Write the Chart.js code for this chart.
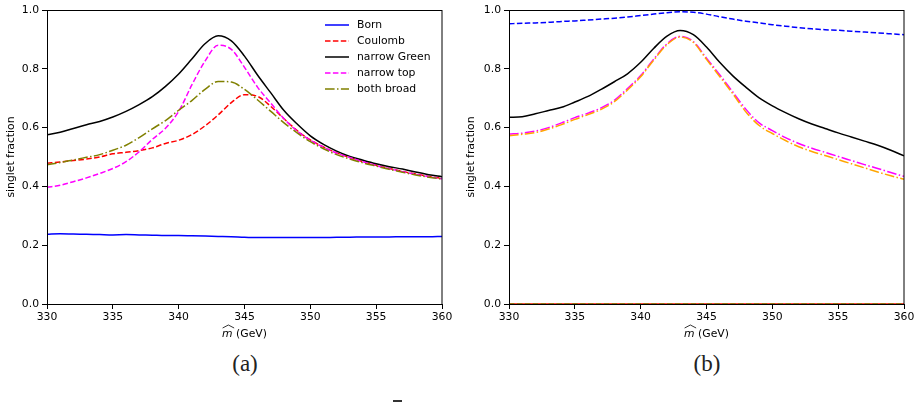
<!DOCTYPE html>
<html lang="en">

<head>
    <meta charset="UTF-8">
    <title>Singlet fraction</title>
    <style>
        body { margin: 0; background: #fff; }
        #wrap { position: relative; width: 921px; height: 402px; overflow: hidden; }
        .panel { position: absolute; top: 0; height: 345px; }
        .tag { position: absolute; top: 351px; font-family: "Liberation Serif", serif; font-size: 23px; color: #222; transform: translateX(-50%); }
        #bar { position: absolute; left: 393px; top: 400px; width: 9px; height: 2px; background: #333; }
    </style>
</head>

<script src="https://cdn.jsdelivr.net/npm/chart.js"></script>

<body>
    <div id="wrap">
        <div class="panel" style="left:0; width:460px;"><canvas id="chartA"></canvas></div>
        <div class="panel" style="left:460px; width:461px;"><canvas id="chartB"></canvas></div>
        <div class="tag" style="left:245px;">(a)</div>
        <div class="tag" style="left:707px;">(b)</div>
        <div id="bar"></div>
    </div>
</body>
<script>
    // invariant mass grid (GeV)
    const mass = [330, 331, 332, 333, 334, 335, 336, 337, 338, 339, 340, 341, 342, 343, 344, 345,
        346, 347, 348, 349, 350, 351, 352, 353, 354, 355, 356, 357, 358, 359, 360];
    const xTicks = [330, 335, 340, 345, 350, 355, 360];
    const yTicks = [0.0, 0.2, 0.4, 0.6, 0.8, 1.0];

    // panel (a)
    const born = [0.237, 0.239, 0.238, 0.237, 0.236, 0.235, 0.236, 0.235, 0.234, 0.233, 0.233, 0.232, 0.231, 0.230, 0.229, 0.227,
        0.226, 0.226, 0.226, 0.226, 0.226, 0.226, 0.227, 0.227, 0.228, 0.228, 0.228, 0.229, 0.229, 0.229, 0.230];
    const coulomb = [0.479, 0.483, 0.488, 0.493, 0.500, 0.511, 0.516, 0.522, 0.531, 0.546, 0.557, 0.576, 0.606, 0.643, 0.685, 0.712,
        0.706, 0.672, 0.630, 0.590, 0.558, 0.534, 0.514, 0.498, 0.484, 0.472, 0.461, 0.451, 0.442, 0.434, 0.427];
    const narrowGreen = [0.576, 0.584, 0.597, 0.610, 0.621, 0.636, 0.655, 0.678, 0.705, 0.740, 0.782, 0.833, 0.885, 0.912, 0.895, 0.843,
        0.778, 0.718, 0.658, 0.612, 0.572, 0.543, 0.520, 0.502, 0.489, 0.477, 0.467, 0.459, 0.449, 0.440, 0.433];
    const narrowTop = [0.397, 0.404, 0.416, 0.429, 0.444, 0.461, 0.484, 0.518, 0.560, 0.598, 0.655, 0.745, 0.826, 0.880, 0.866, 0.805,
        0.737, 0.683, 0.630, 0.588, 0.557, 0.533, 0.513, 0.498, 0.484, 0.471, 0.460, 0.450, 0.441, 0.433, 0.426];
    const bothBroad = [0.474, 0.481, 0.490, 0.499, 0.508, 0.523, 0.540, 0.566, 0.596, 0.624, 0.659, 0.692, 0.730, 0.757, 0.755, 0.730,
        0.694, 0.655, 0.616, 0.582, 0.552, 0.528, 0.508, 0.493, 0.480, 0.469, 0.458, 0.448, 0.439, 0.431, 0.425];

    // panel (b)
    const ggOnly = [0.635, 0.637, 0.647, 0.658, 0.669, 0.687, 0.706, 0.730, 0.756, 0.783, 0.822, 0.870, 0.911, 0.930, 0.916, 0.874,
        0.822, 0.776, 0.737, 0.701, 0.674, 0.651, 0.630, 0.612, 0.597, 0.582, 0.568, 0.554, 0.540, 0.523, 0.504];
    const qqbarOnly = [0, 0, 0, 0, 0, 0, 0, 0, 0, 0, 0, 0, 0, 0, 0, 0, 0, 0, 0, 0, 0, 0, 0, 0, 0, 0, 0, 0, 0, 0, 0];
    const ggSinglet = [0.953, 0.955, 0.956, 0.958, 0.961, 0.963, 0.966, 0.969, 0.972, 0.976, 0.981, 0.986, 0.991, 0.994, 0.992, 0.986,
        0.977, 0.969, 0.962, 0.956, 0.950, 0.945, 0.940, 0.936, 0.933, 0.931, 0.928, 0.925, 0.922, 0.919, 0.916];
    const ggOctet = [0, 0, 0, 0, 0, 0, 0, 0, 0, 0, 0, 0, 0, 0, 0, 0, 0, 0, 0, 0, 0, 0, 0, 0, 0, 0, 0, 0, 0, 0, 0];
    const alphaS = [0.578, 0.581, 0.588, 0.600, 0.616, 0.634, 0.649, 0.667, 0.693, 0.733, 0.777, 0.833, 0.885, 0.910, 0.893, 0.836,
        0.780, 0.721, 0.662, 0.616, 0.590, 0.566, 0.546, 0.530, 0.516, 0.502, 0.488, 0.474, 0.461, 0.447, 0.434];
    const pdf4lhc = [0.572, 0.577, 0.583, 0.595, 0.610, 0.628, 0.644, 0.662, 0.688, 0.728, 0.773, 0.830, 0.882, 0.908, 0.890, 0.832,
        0.774, 0.715, 0.653, 0.607, 0.580, 0.556, 0.535, 0.519, 0.505, 0.491, 0.477, 0.463, 0.449, 0.436, 0.424];

    const SOLID = [];
    const DASH = [5.5, 2.4];
    const DASHDOT = [9.6, 2.4, 1.5, 2.4];
    const FONT = 'DejaVu Sans';
    const FS = 10.8;

    function series(label, values, color, dash) {
        return {
            label: label,
            data: mass.map((m, i) => ({ x: m, y: values[i] })),
            borderColor: color,
            borderWidth: 1.5,
            borderDash: dash,
            pointRadius: 0,
            cubicInterpolationMode: 'monotone',
            fill: false,
        };
    }

    function drawLabel(ctx, text, x, y) {
        // mathtext-ish alpha_s label
        if (text.startsWith('α')) {
            ctx.font = 'italic ' + FS + 'px ' + FONT;
            ctx.fillText('α', x, y);
            let w = ctx.measureText('α').width;
            ctx.font = '7.6px ' + FONT;
            ctx.fillText('s', x + w, y + 3);
            w += ctx.measureText('s').width;
            ctx.font = FS + 'px ' + FONT;
            ctx.fillText(' = 0.118', x + w, y);
        } else {
            ctx.font = FS + 'px ' + FONT;
            ctx.fillText(text, x, y);
        }
    }

    // frame, legend and x title drawn by hand
    const decor = {
        id: 'decor',
        afterDraw(chart, args, opts) {
            const ctx = chart.ctx;
            const a = chart.chartArea;
            ctx.save();
            ctx.strokeStyle = '#000';
            ctx.lineWidth = 1;
            ctx.setLineDash([]);
            ctx.strokeRect(Math.round(a.left) + 0.5, Math.round(a.top) + 0.5, Math.round(a.right - a.left) - 0.5, Math.round(a.bottom - a.top));

            // legend
            ctx.textBaseline = 'middle';
            chart.data.datasets.forEach((ds, i) => {
                const y = opts.legendY + i * 16;
                ctx.strokeStyle = ds.borderColor;
                ctx.lineWidth = 1.5;
                ctx.setLineDash(ds.borderDash);
                ctx.beginPath();
                ctx.moveTo(opts.legendX, y);
                ctx.lineTo(opts.legendX + 24, y);
                ctx.stroke();
                ctx.setLineDash([]);
                ctx.fillStyle = '#000';
                ctx.textAlign = 'left';
                drawLabel(ctx, ds.label, opts.legendX + 32, y);
            });

            // x axis title: m-hat (GeV)
            const cx = (a.left + a.right) / 2;
            ctx.font = 'italic ' + FS + 'px ' + FONT;
            const w1 = ctx.measureText('m').width;
            ctx.font = FS + 'px ' + FONT;
            const w2 = ctx.measureText(' (GeV)').width;
            const x0 = cx - (w1 + w2) / 2;
            ctx.textAlign = 'left';
            ctx.fillStyle = '#000';
            ctx.font = 'italic ' + FS + 'px ' + FONT;
            ctx.fillText('m', x0, 334);
            ctx.strokeStyle = '#000';
            ctx.lineWidth = 0.8;
            ctx.beginPath();
            ctx.moveTo(x0 + 0.5, 328);
            ctx.lineTo(x0 + w1 / 2 + 1, 325);
            ctx.lineTo(x0 + w1 + 1.5, 328);
            ctx.stroke();
            ctx.font = FS + 'px ' + FONT;
            ctx.fillText(' (GeV)', x0 + w1, 334);
            ctx.restore();
        }
    };

    function makeChart(id, datasets, yWidth, rightPad, legendX, legendY) {
        datasets.forEach((ds, i) => { ds.order = datasets.length - i; });
        return new Chart(document.getElementById(id), {
            type: 'line',
            data: { datasets: datasets },
            plugins: [decor],
            options: {
                responsive: true,
                maintainAspectRatio: false,
                animation: false,
                layout: { padding: { left: 0, right: rightPad, top: 10, bottom: 0 } },
                plugins: {
                    legend: { display: false },
                    tooltip: { enabled: false },
                    decor: { legendX: legendX, legendY: legendY },
                },
                scales: {
                    x: {
                        type: 'linear',
                        min: 330,
                        max: 360,
                        afterBuildTicks: s => { s.ticks = xTicks.map(v => ({ value: v })); },
                        afterFit: s => { s.height = 41; },
                        ticks: { color: '#000', font: { family: FONT, size: FS }, padding: 2, maxRotation: 0 },
                        grid: { drawOnChartArea: false, drawTicks: true, tickLength: 5, color: '#000' },
                        border: { color: '#000', width: 1 },
                    },
                    y: {
                        min: 0,
                        max: 1,
                        afterBuildTicks: s => { s.ticks = yTicks.map(v => ({ value: v })); },
                        afterFit: s => { s.width = yWidth; },
                        ticks: { color: '#000', font: { family: FONT, size: FS }, padding: 3, callback: v => v.toFixed(1) },
                        grid: { drawOnChartArea: false, drawTicks: true, tickLength: 5, color: '#000' },
                        border: { color: '#000', width: 1 },
                        title: { display: true, text: 'singlet fraction', color: '#000', font: { family: FONT, size: FS }, padding: { top: 5, bottom: 0 } },
                    },
                },
            },
        });
    }

    makeChart('chartA', [
        series('Born', born, '#0000ff', SOLID),
        series('Coulomb', coulomb, '#ff0000', DASH),
        series('narrow Green', narrowGreen, '#000000', SOLID),
        series('narrow top', narrowTop, '#ff00ff', DASH),
        series('both broad', bothBroad, '#808000', DASHDOT),
    ], 47, 18, 325, 25);

    makeChart('chartB', [
        series('gg only', ggOnly, '#000000', SOLID),
        series('qqbar only', qqbarOnly, '#ff0000', SOLID),
        series('gg singlet', ggSinglet, '#0000ff', DASH),
        series('gg octet', ggOctet, '#808000', DASH),
        series('α_s = 0.118', alphaS, '#ff00ff', DASHDOT),
        series('PDF4LHC21', pdf4lhc, '#ffa500', DASHDOT),
    ], 49, 17, 518, 207);
</script>

</html>
